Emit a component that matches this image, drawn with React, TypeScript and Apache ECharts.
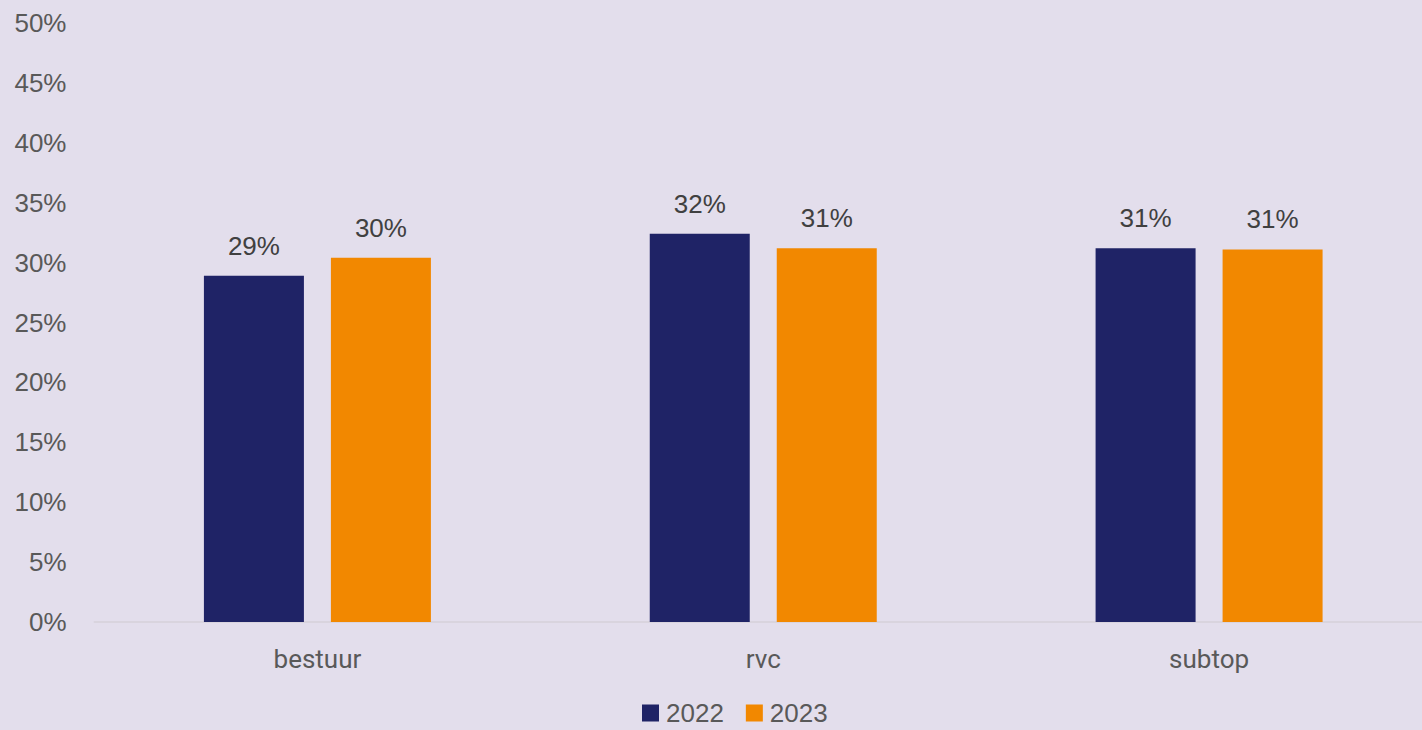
import React, { useEffect, useRef } from "react";
import * as echarts from "echarts";

const categories = ["bestuur", "rvc", "subtop"];
const seriesNames = ["2022", "2023"];
const values2022 = [0.289, 0.324, 0.312];
const values2023 = [0.304, 0.312, 0.311];
const yTicks = [0, 0.05, 0.1, 0.15, 0.2, 0.25, 0.3, 0.35, 0.4, 0.45, 0.5];

const NAVY = "#1F2366";
const ORANGE = "#F28800";
const BG = "#E3DEEC";

export default function App() {
  const ref = useRef<HTMLDivElement>(null);
  useEffect(() => {
    if (!ref.current) return;
    const chart = echarts.init(ref.current, undefined, { renderer: "svg" });
    const labelCfg = {
      show: true,
      position: "top",
      distance: 17,
      color: "#404040",
      fontFamily: "Liberation Sans, Arial, sans-serif",
      fontSize: 26,
      formatter: (p: any) => Math.round(p.value * 100) + "%",
    };
    chart.setOption({
      animation: false,
      backgroundColor: BG,
      grid: { left: 94.5, right: 8, top: 23, bottom: 108, containLabel: false },
      legend: {
        bottom: 4,
        left: 642,
        padding: 0,
        itemWidth: 17,
        itemHeight: 17,
        itemGap: 22,
        icon: "rect",
        textStyle: {
          color: "#595959",
          fontFamily: "Liberation Sans, Arial, sans-serif",
          fontSize: 26,
          lineHeight: 22,
          padding: [0, 0, 0, 2],
        },
        data: seriesNames,
      },
      xAxis: {
        type: "category",
        data: categories,
        axisLine: { lineStyle: { color: "#D9D4DE", width: 2 } },
        axisTick: { show: false },
        axisLabel: {
          color: "#595959",
          fontFamily: "Roboto, sans-serif",
          fontSize: 26,
          margin: 24,
        },
      },
      yAxis: {
        type: "value",
        min: 0,
        max: yTicks[yTicks.length - 1],
        interval: 0.05,
        splitLine: { show: false },
        axisLine: { show: false },
        axisTick: { show: false },
        axisLabel: {
          color: "#595959",
          fontFamily: "Liberation Sans, Arial, sans-serif",
          fontSize: 26,
          margin: 28,
          formatter: (v: number) => Math.round(v * 100) + "%",
        },
      },
      series: [
        {
          name: seriesNames[0],
          type: "bar",
          data: values2022,
          barWidth: 100,
          barGap: "27%",
          itemStyle: { color: NAVY },
          label: labelCfg,
        },
        {
          name: seriesNames[1],
          type: "bar",
          data: values2023,
          barWidth: 100,
          barGap: "27%",
          itemStyle: { color: ORANGE },
          label: labelCfg,
        },
      ],
    });
    return () => chart.dispose();
  }, []);
  return (
    <div
      style={{
        position: "absolute",
        left: 0,
        top: 0,
        width: 1422,
        height: 730,
        overflow: "hidden",
      }}
    >
      <div ref={ref} style={{ width: 1440, height: 730 }} />
    </div>
  );
}
